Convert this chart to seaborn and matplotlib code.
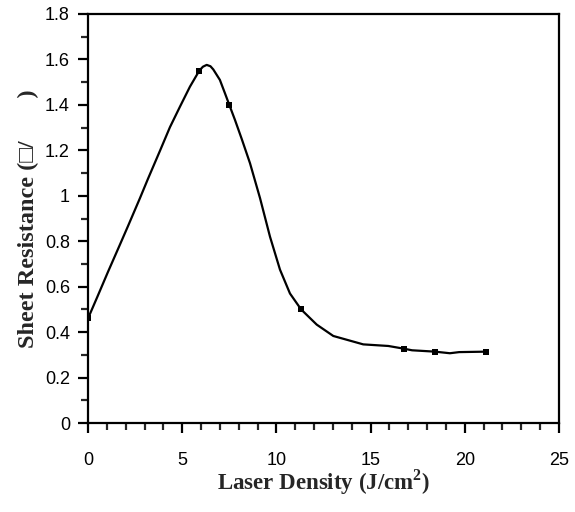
import matplotlib
matplotlib.use("Agg")
import matplotlib.pyplot as plt
import seaborn as sns
import pandas as pd
from matplotlib.ticker import MultipleLocator, FuncFormatter

# Measured data points (markers)
point_x = [0.0, 5.91, 7.50, 11.31, 16.77, 18.42, 21.13]
point_y = [0.46, 1.551, 1.40, 0.50, 0.327, 0.314, 0.314]

# Smooth curve
curve_x = [0.0, 0.5, 1.06, 1.70, 2.12, 2.76, 3.18, 3.82, 4.35, 4.88, 5.41, 5.91,
           6.10, 6.30, 6.50, 6.65, 7.0, 7.27, 7.50, 7.80, 8.16, 8.60, 9.13, 9.66,
           10.19, 10.72, 11.31, 12.14, 13.02, 14.61, 15.94, 16.77, 17.2, 18.42,
           19.21, 19.7, 21.13]
curve_y = [0.46, 0.556, 0.665, 0.786, 0.866, 0.99, 1.074, 1.198, 1.302, 1.392, 1.48, 1.551,
           1.568, 1.576, 1.570, 1.556, 1.51, 1.451, 1.40, 1.334, 1.25, 1.143, 0.99, 0.82,
           0.675, 0.570, 0.50, 0.433, 0.383, 0.346, 0.339, 0.327, 0.32, 0.314,
           0.307, 0.312, 0.314]

x_label = "Laser Density (J/cm$^{\\mathbf{2}}$)"
y_label = "Sheet Resistance (\u25a1/       )"

sns.set_style("ticks")
plt.rcParams["font.family"] = ["Liberation Sans", "DejaVu Sans"]
plt.rcParams["mathtext.fontset"] = "custom"
plt.rcParams["mathtext.bf"] = "Liberation Serif:bold"
plt.rcParams["mathtext.rm"] = "Liberation Serif:bold"

fig = plt.figure(figsize=(5.75, 5.12), dpi=100)
ax = fig.add_axes([88 / 575, 1 - 423 / 512, (559 - 88) / 575, (423 - 14) / 512])

curve = pd.DataFrame({"x": curve_x, "y": curve_y})
pts = pd.DataFrame({"x": point_x, "y": point_y})

sns.lineplot(data=curve, x="x", y="y", ax=ax, color="black", linewidth=1.6,
             sort=False, estimator=None)
sns.scatterplot(data=pts, x="x", y="y", ax=ax, color="black", marker="s", s=14,
                edgecolor="black", linewidth=0, zorder=3)

ax.set_xlim(0, 25)
ax.set_ylim(0, 1.8)
ax.xaxis.set_major_locator(MultipleLocator(5))
ax.xaxis.set_minor_locator(MultipleLocator(1))
ax.yaxis.set_major_locator(MultipleLocator(0.2))
ax.yaxis.set_minor_locator(MultipleLocator(0.1))
ax.yaxis.set_major_formatter(FuncFormatter(lambda v, p: f"{v:g}"))

for s in ax.spines.values():
    s.set_linewidth(1.6)
    s.set_color("black")

ax.tick_params(axis="both", which="major", direction="out", length=7, width=1.6,
               labelsize=13, colors="black")
ax.tick_params(axis="both", which="minor", direction="out", length=5, width=1.6)
ax.tick_params(axis="x", which="major", pad=14)
ax.tick_params(axis="y", which="major", pad=6)
ax.tick_params(top=False, right=False, which="both")

ax.set_xlabel(x_label, fontsize=16.5, fontweight="bold",
              family=["Liberation Serif", "DejaVu Sans"], labelpad=-1)
ax.set_ylabel(y_label, fontsize=17.5, fontweight="bold",
              family=["Liberation Serif", "DejaVu Sans"], labelpad=4)

fig.savefig("out.png", dpi=100)
